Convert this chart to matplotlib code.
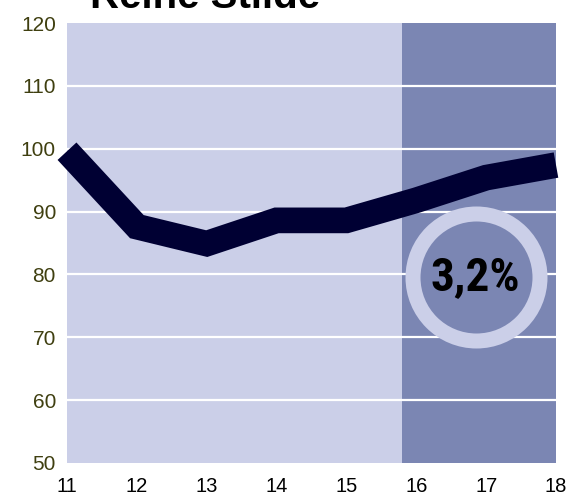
import matplotlib.pyplot as plt
from matplotlib import font_manager

plt.rcParams["font.family"] = ["Liberation Sans", "DejaVu Sans"]

years = [11, 12, 13, 14, 15, 16, 17, 18]
values = [99.6, 87.6, 84.9, 88.6, 88.6, 91.8, 95.4, 97.4]
forecast_start = 15.8
badge_text = "3,2%"
title_text = "Reihe Stilde"

light_bg = "#cbcfe8"
dark_bg = "#7b86b3"
line_color = "#000033"

dpi = 100
fig = plt.figure(figsize=(5.67, 5.01), dpi=dpi)
ax = fig.add_axes([67 / 567, 38 / 501, (556 - 67) / 567, (463 - 23) / 501])
ax.set_facecolor(light_bg)

ax.axvspan(forecast_start, 18, color=dark_bg, lw=0, zorder=0)
for y in range(60, 120, 10):
    ax.axhline(y, color="white", lw=1.6, zorder=1)

ax.plot(years, values, color=line_color, lw=18.5, solid_capstyle="butt",
        solid_joinstyle="miter", clip_on=False, zorder=3)

# badge ring
px = 72 / dpi
ax.plot([16.85], [79.6], marker="o", markersize=127 * px, markerfacecolor=dark_bg,
        markeredgecolor=light_bg, markeredgewidth=15 * px, zorder=4, clip_on=False)
installed = {f.name for f in font_manager.fontManager.ttflist}
badge_family = [n for n in ("Liberation Sans Narrow", "Arial Narrow", "Roboto Condensed")
                if n in installed] + ["Liberation Sans"]
ax.text(16.85, 79.6, badge_text, ha="center", va="center", fontsize=34,
        fontweight="bold", color="black", family=badge_family, zorder=5)

ax.set_xlim(11, 18)
ax.set_ylim(50, 120)
ax.set_xticks(years)
ax.set_yticks(range(50, 121, 10))
ax.tick_params(length=0)
ax.tick_params(axis="x", labelsize=14.5, colors="black", pad=10)
ax.tick_params(axis="y", labelsize=15, labelcolor="#3f3f10", pad=8)
for s in ax.spines.values():
    s.set_visible(False)

fig.text(205 / 567, 1 - 8 / 501, title_text, ha="center", va="baseline",
         fontsize=29, fontweight="bold", color="black")

fig.savefig("out.png", dpi=dpi)
